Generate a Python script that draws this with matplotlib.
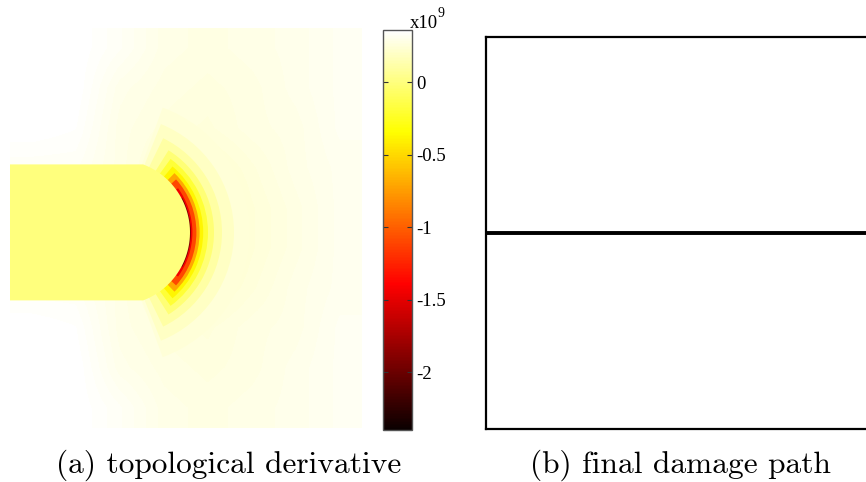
import matplotlib
matplotlib.use("Agg")
import matplotlib.pyplot as plt
import numpy as np
from matplotlib.cm import ScalarMappable
from matplotlib.colors import Normalize
from matplotlib.patches import Polygon, Wedge

W, H = 866, 482
plt.rcParams["axes.unicode_minus"] = False

# topological derivative, in units of 1e9
CBAR_MIN, CBAR_MAX = -2.4, 0.36
CBAR_TICKS = [0, -0.5, -1, -1.5, -2]
CBAR_LABELS = ["0", "-0.5", "-1", "-1.5", "-2"]

# specimen of panel (a), lengths in units of the specimen height
DOMAIN_X = (0.0, 0.88)
DOMAIN_Y = (-0.5, 0.5)
NOTCH_Y = -0.011         # notch axis
NOTCH_HALF = 0.17        # half width of the notch
NOTCH_TIP = 0.45         # x of the notch front
NOTCH_RADIUS = 0.182     # radius of the rounded front
NOTCH_VALUE = 0.0

# far field, coarse samples over the specimen (top row first)
FAR_FIELD = [
    [0.36, 0.36, 0.33, 0.29, 0.28, 0.29, 0.30, 0.32],
    [0.36, 0.36, 0.30, 0.28, 0.27, 0.28, 0.30, 0.32],
    [0.36, 0.35, 0.29, 0.27, 0.26, 0.28, 0.29, 0.32],
    [0.33, 0.33, 0.29, 0.25, 0.23, 0.26, 0.29, 0.31],
    [0.30, 0.30, 0.28, 0.24, 0.20, 0.25, 0.28, 0.31],
    [0.30, 0.30, 0.28, 0.24, 0.20, 0.25, 0.28, 0.31],
    [0.33, 0.33, 0.29, 0.25, 0.23, 0.26, 0.29, 0.31],
    [0.36, 0.35, 0.29, 0.27, 0.26, 0.28, 0.29, 0.32],
    [0.36, 0.36, 0.30, 0.28, 0.27, 0.28, 0.30, 0.32],
    [0.36, 0.36, 0.33, 0.29, 0.28, 0.29, 0.30, 0.32],
]

# halo in front of the notch: distance from the front, value, half opening (deg)
HALO_DIST = [0.15, 0.11, 0.08, 0.06, 0.045, 0.033, 0.024, 0.016, 0.006, 0.002]
HALO_VALUE = [0.25, 0.19, 0.11, -0.02, -0.2, -0.38, -0.7, -1.1, -1.45, -1.95]
HALO_SPAN = [70, 68, 64, 58, 54, 50, 46, 42, 36, 28]

# final damage path of panel (b), unit square specimen
PATH_X = [0.0, 1.0]
PATH_Y = [0.5, 0.5]


def px_axes(x0, y0, x1, y1):
    return fig.add_axes([x0 / W, 1 - y1 / H, (x1 - x0) / W, (y1 - y0) / H])


cmap = plt.get_cmap("hot")
norm = Normalize(CBAR_MIN, CBAR_MAX)

fig = plt.figure(figsize=(W / 100, H / 100), dpi=100)

# (a) topological derivative
ax = px_axes(10, 28, 362, 428)
ax.imshow(np.array(FAR_FIELD), cmap=cmap, norm=norm, interpolation="bilinear",
          extent=(*DOMAIN_X, *DOMAIN_Y), aspect="auto", zorder=0)
centre = NOTCH_TIP - NOTCH_RADIUS
for d, v, s in zip(HALO_DIST, HALO_VALUE, HALO_SPAN):
    ax.add_patch(Wedge((centre, NOTCH_Y), NOTCH_RADIUS + d, -s, s,
                       facecolor=cmap(norm(v)), edgecolor="none", zorder=1))
a = np.arcsin(NOTCH_HALF / NOTCH_RADIUS)
t = np.linspace(-a, a, 60)
front = np.column_stack([centre + NOTCH_RADIUS * np.cos(t),
                         NOTCH_Y + NOTCH_RADIUS * np.sin(t)])
notch = np.vstack([[DOMAIN_X[0], NOTCH_Y - NOTCH_HALF], front,
                   [DOMAIN_X[0], NOTCH_Y + NOTCH_HALF]])
ax.add_patch(Polygon(notch, closed=True, facecolor=cmap(norm(NOTCH_VALUE)),
                     edgecolor="none", zorder=2))
ax.set_xlim(DOMAIN_X)
ax.set_ylim(DOMAIN_Y)
ax.axis("off")

cax = px_axes(383, 30, 412, 430)
cb = fig.colorbar(ScalarMappable(norm=norm, cmap=cmap), cax=cax)
cb.set_ticks(CBAR_TICKS)
cb.set_ticklabels(CBAR_LABELS)
cb.outline.set_edgecolor("#555555")
cb.outline.set_linewidth(1.0)
cax.tick_params(axis="y", direction="in", left=True, right=True, length=3.5,
                width=0.8, color="#333333", labelsize=13.5, pad=3)
for lab in cax.get_yticklabels():
    lab.set_fontfamily("Liberation Serif")
fig.text(410 / W, 1 - 28 / H, "x10", fontsize=13.5, family="Liberation Serif",
         va="baseline", ha="left")
fig.text(437 / W, 1 - 17 / H, "9", fontsize=10, family="Liberation Serif",
         va="baseline", ha="left")

# (b) final damage path
rax = px_axes(486, 37, 886, 429)
rax.plot(PATH_X, PATH_Y, color="black", lw=2.8, solid_capstyle="butt")
rax.set_xlim(0, 1)
rax.set_ylim(0, 1)
rax.set_xticks([])
rax.set_yticks([])
for sp in rax.spines.values():
    sp.set_linewidth(1.6)

fig.text(229 / W, 1 - 473 / H, "(a) topological derivative", family="cmr10",
         fontsize=22.6, ha="center", va="baseline")
fig.text(680 / W, 1 - 473 / H, "(b) final damage path", family="cmr10",
         fontsize=22.6, ha="center", va="baseline")

fig.savefig("out.png", dpi=100)
